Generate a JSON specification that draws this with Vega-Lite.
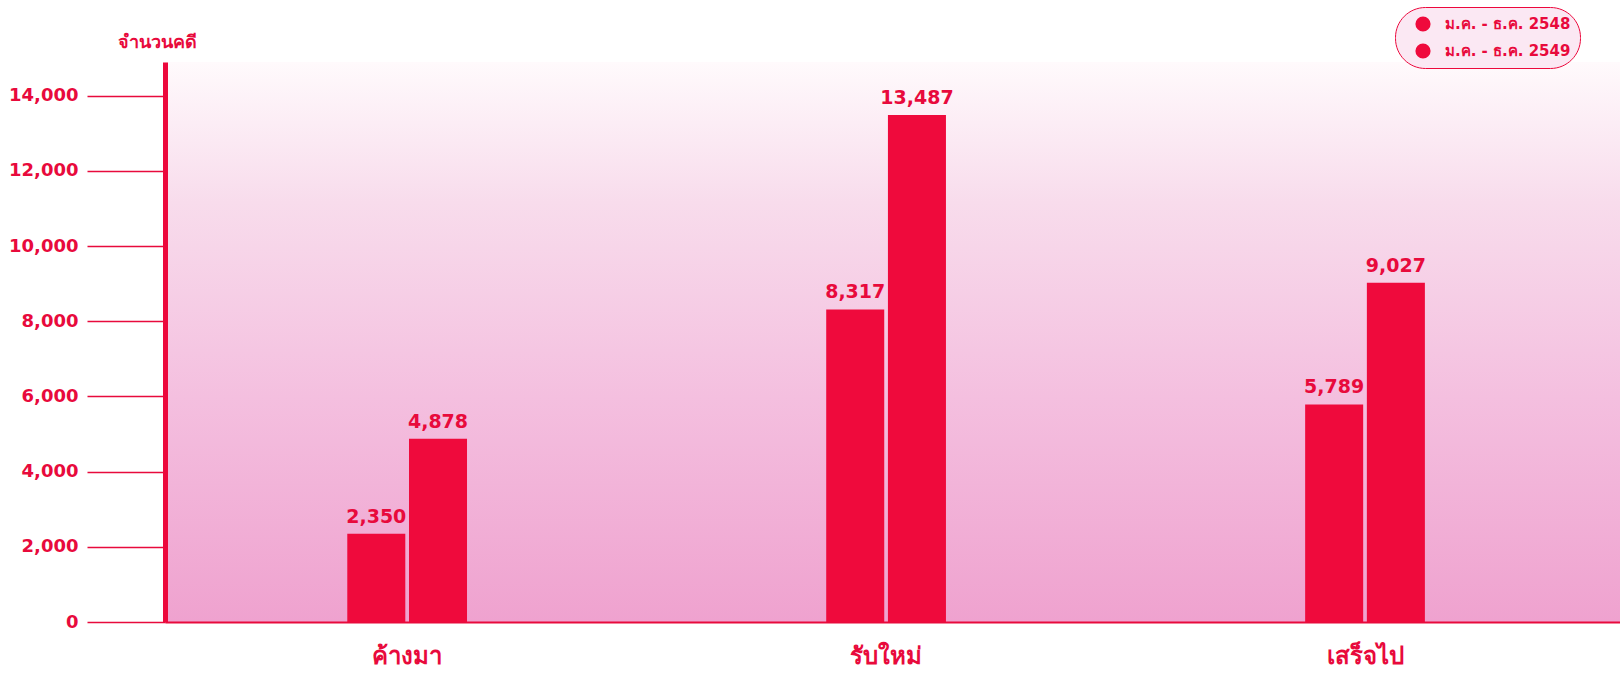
{
  "$schema": "https://vega.github.io/schema/vega-lite/v6.json",
  "width": 1455,
  "height": 560,
  "autosize": {"type": "none"},
  "padding": {"left": 165, "top": 62, "right": 0, "bottom": 51},
  "background": "white",
  "data": {
    "values": [
      {"category": "ค้างมา", "period": "ม.ค. - ธ.ค. 2548", "cases": 2350},
      {"category": "ค้างมา", "period": "ม.ค. - ธ.ค. 2549", "cases": 4878},
      {"category": "รับใหม่", "period": "ม.ค. - ธ.ค. 2548", "cases": 8317},
      {"category": "รับใหม่", "period": "ม.ค. - ธ.ค. 2549", "cases": 13487},
      {"category": "เสร็จไป", "period": "ม.ค. - ธ.ค. 2548", "cases": 5789},
      {"category": "เสร็จไป", "period": "ม.ค. - ธ.ค. 2549", "cases": 9027}
    ]
  },
  "encoding": {
    "x": {
      "field": "category",
      "type": "nominal",
      "sort": ["ค้างมา", "รับใหม่", "เสร็จไป"],
      "scale": {"paddingInner": 0.75, "paddingOuter": 0.394, "align": 0.483},
      "axis": {
        "title": null,
        "labelAngle": 0,
        "labelFont": "Liberation Sans",
        "labelFontSize": 24,
        "labelFontWeight": "bold",
        "labelColor": "#e80a3c",
        "labelPadding": 22,
        "ticks": false,
        "grid": false,
        "domainColor": "#e80a3c",
        "domainWidth": 2
      }
    },
    "xOffset": {"field": "period", "type": "nominal", "scale": {"paddingInner": 0.06}},
    "y": {
      "field": "cases",
      "type": "quantitative",
      "scale": {"domain": [0, 14900], "nice": false},
      "axis": {
        "values": [0, 2000, 4000, 6000, 8000, 10000, 12000, 14000],
        "format": ",.0f",
        "grid": false,
        "labelFont": "DejaVu Sans",
        "labelFontSize": 18,
        "labelFontWeight": "bold",
        "labelColor": "#e80a3c",
        "labelPadding": 9,
        "tickColor": "#e80a3c",
        "tickSize": 78,
        "tickWidth": 1.5,
        "domainColor": "#ec083c",
        "domainWidth": 5,
        "title": "จำนวนคดี",
        "titleAngle": 0,
        "titleX": -8,
        "titleY": -20,
        "titleAlign": "center",
        "titleBaseline": "middle",
        "titleFont": "Liberation Sans",
        "titleFontSize": 18,
        "titleFontWeight": "bold",
        "titleColor": "#e80a3c"
      }
    }
  },
  "layer": [
    {
      "mark": {"type": "bar", "opacity": 1},
      "encoding": {
        "color": {
          "field": "period",
          "type": "nominal",
          "scale": {"range": ["#ef0a3c", "#ef0a3c"]},
          "legend": {
            "title": null,
            "orient": "none",
            "legendX": 1230,
            "legendY": -55,
            "symbolType": "circle",
            "symbolSize": 230,
            "symbolStrokeWidth": 0,
            "symbolOffset": 11,
            "labelFont": "DejaVu Sans",
            "labelFontSize": 15,
            "labelFontWeight": "bold",
            "labelColor": "#e80a3c",
            "labelOffset": 14,
            "rowPadding": 11,
            "padding": 9,
            "fillColor": "#fbe8f3",
            "strokeColor": "#ec083c",
            "cornerRadius": 30,
            "encode": {"legend": {"update": {"strokeWidth": {"value": 2}}}}
          }
        }
      }
    },
    {
      "mark": {
        "type": "text",
        "dy": -7,
        "baseline": "bottom",
        "font": "DejaVu Sans",
        "fontSize": 19,
        "fontWeight": "bold",
        "color": "#e80a3c"
      },
      "encoding": {"text": {"field": "cases", "type": "quantitative", "format": ",.0f"}}
    }
  ],
  "config": {
    "view": {
      "stroke": null,
      "fill": {
        "gradient": "linear",
        "x1": 0, "y1": 0, "x2": 0, "y2": 1,
        "stops": [
          {"offset": 0, "color": "#fffafc"},
          {"offset": 0.25, "color": "#f8dcec"},
          {"offset": 0.6, "color": "#f4bfdf"},
          {"offset": 1, "color": "#efa2cf"}
        ]
      }
    }
  }
}
